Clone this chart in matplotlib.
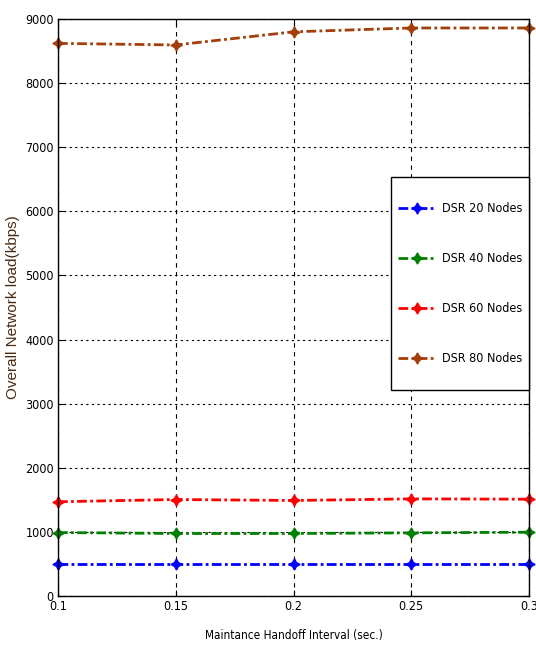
import matplotlib
matplotlib.use("Agg")
import matplotlib.pyplot as plt
from matplotlib.patches import Rectangle

plt.rcParams['font.family'] = ['DejaVu Sans']
plt.rcParams['font.stretch'] = 'condensed'

x = [0.1, 0.15, 0.2, 0.25, 0.3]
dsr20 = [500, 500, 500, 500, 500]
dsr40 = [990, 975, 975, 985, 995]
dsr60 = [1470, 1505, 1490, 1515, 1510]
dsr80 = [8620, 8595, 8800, 8860, 8860]
labels = ['DSR 20 Nodes', 'DSR 40 Nodes', 'DSR 60 Nodes', 'DSR 80 Nodes']
colors = ['#0000ff', '#008000', '#ff0000', '#a33f0a']
xticks = [0.1, 0.15, 0.2, 0.25, 0.3]
xticklabels = ['0.1', '0.15', '0.2', '0.25', '0.3']
yticks = [0, 1000, 2000, 3000, 4000, 5000, 6000, 7000, 8000, 9000]

fig = plt.figure(figsize=(5.36, 6.46), dpi=100)
ax = fig.add_axes([58/536, 1-596/646, (529-58)/536, (596-19)/646])

for ys, lab, c in zip([dsr20, dsr40, dsr60, dsr80], labels, colors):
    ax.plot(x, ys, linestyle=(0, (3.5, 1.2, 1, 1.2)), color=c, linewidth=2,
            marker=(4, 1, 0), markersize=8, label=lab, clip_on=False)

ax.set_xlim(0.1, 0.3)
ax.set_ylim(0, 9000)
ax.set_xticks(xticks)
ax.set_xticklabels(xticklabels)
ax.set_yticks(yticks)
ax.tick_params(direction='in', top=True, right=True, labelsize=9, length=4, pad=3)
ax.xaxis.grid(True, linestyle=(0, (4, 4)), color='black', linewidth=0.8)
ax.yaxis.grid(True, linestyle=(0, (2, 3)), color='black', linewidth=0.8)
for s in ax.spines.values():
    s.set_linewidth(1.0)

ax.set_xlabel('Maintance Handoff Interval (sec.)', fontsize=8.5)
ax.xaxis.set_label_coords(0.5, -0.068)
ax.xaxis.label.set_verticalalignment('center')
ax.set_ylabel('Overall Network load(kbps)', fontsize=11, color='#4a2a10',
              family=['Liberation Sans', 'DejaVu Sans'], stretch='normal')
ax.yaxis.set_label_coords(-0.08, 0.5)

frame = Rectangle(((391-58)/471, (596-390)/577), (529-391)/471, (390-177)/577,
                  transform=ax.transAxes, facecolor='white', edgecolor='black',
                  linewidth=1.0, zorder=4.5, clip_on=False)
ax.add_patch(frame)
leg = ax.legend(loc='center left', bbox_to_anchor=((393-58)/471, (596-284)/577),
                fontsize=9, labelspacing=2.96, handlelength=3.0, handletextpad=0.5,
                frameon=False, borderaxespad=0, borderpad=0.4)

fig.savefig('out.png', dpi=100)
